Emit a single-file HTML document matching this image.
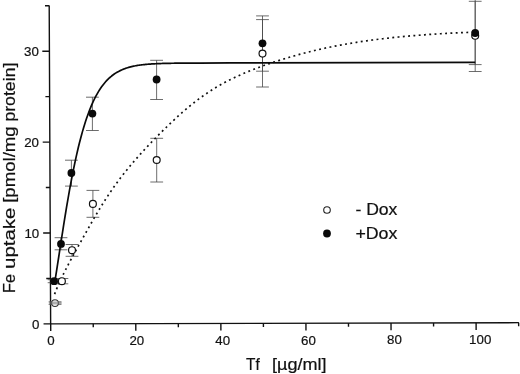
<!DOCTYPE html>
<html lang="en"><head><meta charset="utf-8"><title>Fe uptake vs Tf</title>
<style>
html,body{margin:0;padding:0;background:#fff;}
body{width:520px;height:374px;overflow:hidden;}
svg{display:block;will-change:transform;filter:blur(0.35px);font-family:"Liberation Sans",Arial,Helvetica,sans-serif;fill:#111;}
text{stroke:#111;stroke-width:0.2px;}
</style></head><body>
<svg width="520" height="374" viewBox="0 0 520 374">
<rect width="520" height="374" fill="#fff"/>
<g fill="none" stroke="#111" stroke-width="1.4">
<path d="M49.20,5.60L50.65,323.85L518.90,322.67" stroke-linejoin="miter"/>
<path d="M43.55,323.92L50.65,323.90M46.24,278.46L50.44,278.45M43.14,233.02L50.24,233.00M45.83,187.56L50.03,187.55M42.72,142.12L49.82,142.10M45.41,96.66L49.61,96.65M42.31,51.22L49.41,51.20M45.00,5.76L49.20,5.75M50.70,323.85L50.73,331.05M93.24,323.74L93.26,327.34M135.78,323.63L135.81,330.83M178.32,323.53L178.34,327.13M220.86,323.42L220.89,330.62M263.40,323.31L263.42,326.91M305.94,323.20L305.97,330.40M348.48,323.10L348.50,326.70M391.02,322.99L391.05,330.19M433.56,322.88L433.58,326.48M476.10,322.77L476.13,329.97M518.64,322.67L518.66,326.27"/>
</g>
<g fill="none" stroke="#484848" stroke-width="0.8">
<path d="M55.0,301.9V304.3M48.6,301.9H61.4M48.6,304.3H61.4"/>
<path d="M61.9,278.5V283.8M55.5,278.5H68.3M55.5,283.8H68.3"/>
<path d="M72.0,244.5V256.3M65.6,244.5H78.4M65.6,256.3H78.4"/>
<path d="M92.9,190.4V217.3M86.5,190.4H99.3M86.5,217.3H99.3"/>
<path d="M156.7,138.3V182.0M150.3,138.3H163.1M150.3,182.0H163.1"/>
<path d="M262.5,19.6V87.0M256.1,19.6H268.9M256.1,87.0H268.9"/>
<path d="M475.2,1.3V71.5M468.8,1.3H481.6M468.8,71.5H481.6"/>
<path d="M54.1,279.7V282.7M47.7,279.7H60.5M47.7,282.7H60.5"/>
<path d="M61.0,237.7V249.8M54.6,237.7H67.4M54.6,249.8H67.4"/>
<path d="M71.4,160.2V186.1M65.0,160.2H77.8M65.0,186.1H77.8"/>
<path d="M92.4,97.2V130.5M86.0,97.2H98.8M86.0,130.5H98.8"/>
<path d="M156.6,60.3V99.5M150.2,60.3H163.0M150.2,99.5H163.0"/>
<path d="M262.5,15.9V71.2M256.1,15.9H268.9M256.1,71.2H268.9"/>
<path d="M475.2,-0.6V64.6M468.8,-0.6H481.6M468.8,64.6H481.6"/>
</g>
<path d="M54.6,294.12 L56.6,289.06 L58.6,284.38 L60.6,279.97 L62.6,275.77 L64.6,271.73 L66.6,267.81 L68.6,263.98 L70.6,260.22 L72.6,256.52 L74.6,252.86 L76.6,249.23 L78.6,245.62 L80.6,242.04 L82.6,238.46 L84.6,234.90 L86.6,231.35 L88.6,227.81 L90.6,224.28 L92.6,220.79 L94.6,217.33 L96.6,213.93 L98.6,210.57 L100.6,207.27 L102.6,204.03 L104.6,200.86 L106.6,197.74 L108.6,194.70 L110.6,191.72 L112.6,188.81 L114.6,185.97 L116.6,183.19 L118.6,180.48 L120.6,177.83 L122.6,175.24 L124.6,172.70 L126.6,170.21 L128.6,167.76 L130.6,165.36 L132.6,162.99 L134.6,160.67 L136.6,158.37 L138.6,156.11 L140.6,153.88 L142.6,151.68 L144.6,149.51 L146.6,147.36 L148.6,145.24 L150.6,143.13 L152.6,141.05 L154.6,138.99 L156.6,136.95 L158.6,134.93 L160.6,132.93 L162.6,130.94 L164.6,128.96 L166.6,127.01 L168.6,125.07 L170.6,123.15 L172.6,121.26 L174.6,119.38 L176.6,117.54 L178.6,115.71 L180.6,113.92 L182.6,112.16 L184.6,110.42 L186.6,108.72 L188.6,107.04 L190.6,105.40 L192.6,103.79 L194.6,102.21 L196.6,100.66 L198.6,99.15 L200.6,97.67 L202.6,96.23 L204.6,94.82 L206.6,93.44 L208.6,92.10 L210.6,90.80 L212.6,89.53 L214.6,88.29 L216.6,87.09 L218.6,85.91 L220.6,84.77 L222.6,83.66 L224.6,82.58 L226.6,81.53 L228.6,80.50 L230.6,79.49 L232.6,78.51 L234.6,77.55 L236.6,76.62 L238.6,75.70 L240.6,74.80 L242.6,73.93 L244.6,73.07 L246.6,72.22 L248.6,71.40 L250.6,70.59 L252.6,69.79 L254.6,69.01 L256.6,68.24 L258.6,67.49 L260.6,66.75 L262.6,66.02 L264.6,65.30 L266.6,64.60 L268.6,63.90 L270.6,63.22 L272.6,62.55 L274.6,61.89 L276.6,61.23 L278.6,60.59 L280.6,59.95 L282.6,59.33 L284.6,58.71 L286.6,58.10 L288.6,57.50 L290.6,56.91 L292.6,56.33 L294.6,55.76 L296.6,55.20 L298.6,54.64 L300.6,54.10 L302.6,53.56 L304.6,53.03 L306.6,52.52 L308.6,52.01 L310.6,51.51 L312.6,51.02 L314.6,50.53 L316.6,50.06 L318.6,49.60 L320.6,49.14 L322.6,48.69 L324.6,48.25 L326.6,47.82 L328.6,47.40 L330.6,46.99 L332.6,46.58 L334.6,46.19 L336.6,45.80 L338.6,45.42 L340.6,45.04 L342.6,44.68 L344.6,44.32 L346.6,43.97 L348.6,43.62 L350.6,43.29 L352.6,42.95 L354.6,42.63 L356.6,42.31 L358.6,42.00 L360.6,41.70 L362.6,41.40 L364.6,41.11 L366.6,40.82 L368.6,40.54 L370.6,40.27 L372.6,40.00 L374.6,39.74 L376.6,39.48 L378.6,39.23 L380.6,38.99 L382.6,38.75 L384.6,38.51 L386.6,38.28 L388.6,38.05 L390.6,37.83 L392.6,37.62 L394.6,37.41 L396.6,37.20 L398.6,37.00 L400.6,36.80 L402.6,36.61 L404.6,36.43 L406.6,36.24 L408.6,36.06 L410.6,35.89 L412.6,35.72 L414.6,35.55 L416.6,35.39 L418.6,35.23 L420.6,35.08 L422.6,34.93 L424.6,34.78 L426.6,34.64 L428.6,34.50 L430.6,34.36 L432.6,34.23 L434.6,34.10 L436.6,33.97 L438.6,33.85 L440.6,33.73 L442.6,33.62 L444.6,33.51 L446.6,33.40 L448.6,33.29 L450.6,33.19 L452.6,33.09 L454.6,33.00 L456.6,32.90 L458.6,32.81 L460.6,32.72 L462.6,32.64 L464.6,32.56 L466.6,32.48 L468.6,32.40 L470.6,32.33 L472.6,32.26 L474.6,32.19" fill="none" stroke="#111" stroke-width="1.7" stroke-dasharray="1.9 3.4"/>
<path d="M54.6,282.99 L55.6,276.92 L56.6,270.65 L57.6,264.24 L58.6,257.75 L59.6,251.22 L60.6,244.69 L61.6,238.20 L62.6,231.76 L63.6,225.40 L64.6,219.14 L65.6,212.99 L66.6,206.95 L67.6,201.05 L68.6,195.30 L69.6,189.68 L70.6,184.23 L71.6,178.92 L72.6,173.78 L73.6,168.80 L74.6,163.97 L75.6,159.32 L76.6,154.82 L77.6,150.48 L78.6,146.30 L79.6,142.28 L80.6,138.42 L81.6,134.70 L82.6,131.14 L83.6,127.72 L84.6,124.44 L85.6,121.30 L86.6,118.30 L87.6,115.43 L88.6,112.69 L89.6,110.07 L90.6,107.57 L91.6,105.18 L92.6,102.91 L93.6,100.74 L94.6,98.68 L95.6,96.72 L96.6,94.85 L97.6,93.08 L98.6,91.39 L99.6,89.79 L100.6,88.27 L101.6,86.83 L102.6,85.47 L103.6,84.17 L104.6,82.95 L105.6,81.79 L106.6,80.69 L107.6,79.65 L108.6,78.66 L109.6,77.74 L110.6,76.86 L111.6,76.03 L112.6,75.25 L113.6,74.51 L114.6,73.81 L115.6,73.15 L116.6,72.53 L117.6,71.95 L118.6,71.40 L119.6,70.88 L120.6,70.39 L121.6,69.93 L122.6,69.50 L123.6,69.10 L124.6,68.71 L125.6,68.36 L126.6,68.02 L127.6,67.70 L128.6,67.40 L129.6,67.12 L130.6,66.86 L131.6,66.62 L132.6,66.39 L133.6,66.17 L134.6,65.97 L135.6,65.78 L136.6,65.60 L137.6,65.43 L138.6,65.28 L139.6,65.13 L140.6,64.99 L141.6,64.87 L142.6,64.75 L143.6,64.63 L144.6,64.53 L145.6,64.43 L146.6,64.34 L147.6,64.25 L148.6,64.17 L149.6,64.10 L150.6,64.03 L151.6,63.96 L152.6,63.90 L153.6,63.84 L154.6,63.79 L155.6,63.74 L156.6,63.69 L157.6,63.65 L158.6,63.61 L159.6,63.57 L160.6,63.53 L161.6,63.50 L162.6,63.47 L163.6,63.44 L164.6,63.41 L165.6,63.39 L166.6,63.37 L167.6,63.34 L168.6,63.32 L169.6,63.30 L170.6,63.28 L171.6,63.27 L172.6,63.25 L173.6,63.24 L174.6,63.22 L175.6,63.21 L176.6,63.20 L177.6,63.19 L178.6,63.17 L179.6,63.16 L180.6,63.15 L181.6,63.15 L182.6,63.14 L183.6,63.13 L184.6,63.12 L185.6,63.11 L186.6,63.11 L187.6,63.10 L188.6,63.09 L189.6,63.09 L190.6,63.08 L191.6,63.08 L192.6,63.07 L193.6,63.07 L194.6,63.06 L195.6,63.06 L196.6,63.05 L197.6,63.05 L198.6,63.04 L199.6,63.04 L200.0,63.04 L230.0,62.96 L475.2,62.41" fill="none" stroke="#0a0a0a" stroke-width="1.7" stroke-linejoin="round"/>
<g>
<circle cx="55.0" cy="303.1" r="3.4" fill="#f4f4f4" stroke="#333" stroke-width="1.1"/><path d="M49.2,302.2H61.6M49.2,303.8H61.6" fill="none" stroke="#777" stroke-width="0.8"/>
<circle cx="61.9" cy="281.2" r="3.45" fill="#fff" stroke="#111" stroke-width="1.2"/>
<circle cx="72.0" cy="250.2" r="3.45" fill="#fff" stroke="#111" stroke-width="1.2"/>
<circle cx="92.9" cy="203.9" r="3.45" fill="#fff" stroke="#111" stroke-width="1.2"/>
<circle cx="156.7" cy="160.0" r="3.45" fill="#fff" stroke="#111" stroke-width="1.2"/>
<circle cx="262.5" cy="53.6" r="3.45" fill="#fff" stroke="#111" stroke-width="1.2"/>
<circle cx="475.2" cy="35.8" r="3.45" fill="#fff" stroke="#111" stroke-width="1.2"/>
<circle cx="54.1" cy="281.2" r="3.9" fill="#0a0a0a"/>
<circle cx="61.0" cy="243.9" r="3.9" fill="#0a0a0a"/>
<circle cx="71.4" cy="173.0" r="3.9" fill="#0a0a0a"/>
<circle cx="92.4" cy="113.6" r="3.9" fill="#0a0a0a"/>
<circle cx="156.6" cy="79.5" r="3.9" fill="#0a0a0a"/>
<circle cx="262.5" cy="43.3" r="3.9" fill="#0a0a0a"/>
<circle cx="475.2" cy="33.0" r="3.9" fill="#0a0a0a"/>
</g>
<g font-size="13.3px">
<text x="39.4" y="328.9" text-anchor="end">0</text>
<text x="39.2" y="238.0" text-anchor="end">10</text>
<text x="39.0" y="147.1" text-anchor="end">20</text>
<text x="38.9" y="56.2" text-anchor="end">30</text>
<text x="51.0" y="345.2" text-anchor="middle">0</text>
<text x="136.8" y="345.0" text-anchor="middle">20</text>
<text x="222.7" y="344.8" text-anchor="middle">40</text>
<text x="308.5" y="344.5" text-anchor="middle">60</text>
<text x="394.4" y="344.3" text-anchor="middle">80</text>
<text x="480.2" y="344.1" text-anchor="middle">100</text>
</g>
<text transform="translate(14.7,293.00) rotate(-90)" font-size="16.5px" textLength="19.00" lengthAdjust="spacingAndGlyphs">Fe</text>
<text transform="translate(14.7,269.00) rotate(-90)" font-size="16.5px" textLength="61.50" lengthAdjust="spacingAndGlyphs">uptake</text>
<text transform="translate(14.7,202.80) rotate(-90)" font-size="16.5px" textLength="76.50" lengthAdjust="spacingAndGlyphs">[pmol/mg</text>
<text transform="translate(14.7,121.60) rotate(-90)" font-size="16.5px" textLength="59.00" lengthAdjust="spacingAndGlyphs">protein]</text>
<text x="246.00" y="369.5" font-size="16.5px" textLength="13.70" lengthAdjust="spacingAndGlyphs">Tf</text>
<text x="272.00" y="369.5" font-size="16.5px" textLength="54.60" lengthAdjust="spacingAndGlyphs">[µg/ml]</text>
<circle cx="327" cy="210" r="3.3" fill="#fff" stroke="#222" stroke-width="1.1"/>
<circle cx="327" cy="233.5" r="3.9" fill="#0a0a0a"/>
<text x="355.4" y="215.3" font-size="16px" textLength="42" lengthAdjust="spacingAndGlyphs">- Dox</text>
<text x="355.4" y="239" font-size="16px" textLength="42" lengthAdjust="spacingAndGlyphs">+Dox</text>
</svg>
</body></html>
